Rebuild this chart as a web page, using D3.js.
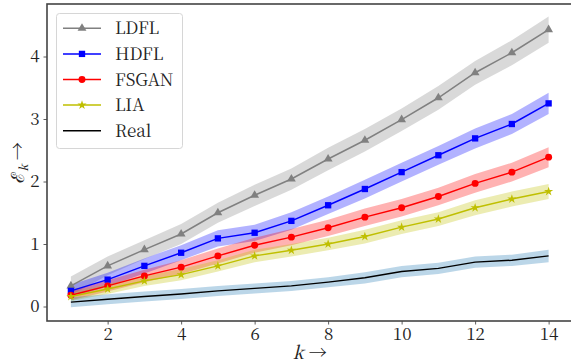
<!DOCTYPE html>
<html><head><meta charset="utf-8">
<script src="https://cdn.jsdelivr.net/npm/d3@7"></script>
<style>
html,body{margin:0;padding:0;background:#fff;}
svg{display:block;}
</style></head>
<body>
<svg id="c" width="571" height="364"></svg>
<script>
const ks = [1,2,3,4,5,6,7,8,9,10,11,12,13,14];
const ldfl  = [0.33,0.65,0.91,1.16,1.50,1.78,2.04,2.36,2.66,2.99,3.34,3.74,4.06,4.43];
const ldflE = [0.15,0.15,0.15,0.16,0.16,0.17,0.17,0.18,0.18,0.18,0.19,0.19,0.2,0.21];
const hdfl  = [0.25,0.43,0.65,0.86,1.09,1.18,1.37,1.62,1.88,2.15,2.42,2.69,2.92,3.25];
const hdflE = [0.1,0.11,0.12,0.12,0.13,0.13,0.14,0.14,0.15,0.15,0.15,0.16,0.16,0.17];
const fsgan = [0.18,0.33,0.49,0.63,0.81,0.98,1.11,1.26,1.43,1.58,1.76,1.97,2.15,2.39];
const fsganE= [0.08,0.09,0.1,0.11,0.12,0.12,0.13,0.13,0.14,0.14,0.14,0.15,0.15,0.16];
const lia   = [0.16,0.28,0.41,0.51,0.65,0.81,0.90,1.00,1.12,1.27,1.40,1.58,1.72,1.84];
const liaE  = [0.07,0.08,0.08,0.09,0.09,0.1,0.1,0.1,0.11,0.11,0.11,0.12,0.12,0.12];
const real  = [0.07,0.115,0.16,0.20,0.25,0.29,0.33,0.39,0.46,0.56,0.61,0.71,0.74,0.81];
const realE = [0.08,0.08,0.08,0.08,0.08,0.08,0.08,0.08,0.09,0.09,0.09,0.09,0.09,0.1];
const xTicks = [2,4,6,8,10,12,14];
const yTicks = [0,1,2,3,4];

const series = [
  {name:"LDFL",  v:ldfl,  e:ldflE,  color:"#808080", band:"#808080", marker:"tri"},
  {name:"HDFL",  v:hdfl,  e:hdflE,  color:"#0000ff", band:"#0000ff", marker:"sq"},
  {name:"FSGAN", v:fsgan, e:fsganE, color:"#ff0000", band:"#ff0000", marker:"circ"},
  {name:"LIA",   v:lia,   e:liaE,   color:"#bfbf00", band:"#bfbf00", marker:"star"},
  {name:"Real",  v:real,  e:realE,  color:"#000000", band:"#1f77b4", marker:null}
];

const FONT = "font-family:'Noto Serif CJK SC','Liberation Serif',serif;";
const svg = d3.select("#c");
const L=47, R=572.5, T=4, B=321;
const x = d3.scaleLinear().domain([0.35,14.65]).range([L,R]);
const y = d3.scaleLinear().domain([-0.232,4.84]).range([B,T]);

const symType = {tri:d3.symbolTriangle, sq:d3.symbolSquare, circ:d3.symbolCircle, star:d3.symbolStar};
const symSize = {tri:34, sq:40, circ:38, star:26};

series.forEach(s=>{
  const area = d3.area().x((d,i)=>x(ks[i])).y0((d,i)=>y(s.v[i]-s.e[i])).y1((d,i)=>y(s.v[i]+s.e[i]));
  svg.append("path").attr("d",area(s.v)).attr("fill",s.band).attr("fill-opacity",0.3).attr("stroke","none");
});
series.forEach(s=>{
  const line = d3.line().x((d,i)=>x(ks[i])).y(d=>y(d));
  svg.append("path").attr("d",line(s.v)).attr("fill","none").attr("stroke",s.color).attr("stroke-width",1.5);
  if(s.marker){
    svg.append("g").selectAll("path").data(s.v).join("path")
      .attr("transform",(d,i)=>`translate(${x(ks[i])},${y(d)})`)
      .attr("d",d3.symbol().type(symType[s.marker]).size(symSize[s.marker]))
      .attr("fill",s.color);
  }
});

const gx = svg.append("g").attr("transform",`translate(0,${B})`)
  .call(d3.axisBottom(x).tickValues(xTicks).tickSize(3.5).tickPadding(3).tickFormat(d3.format("d")));
const gy = svg.append("g").attr("transform",`translate(${L},0)`)
  .call(d3.axisLeft(y).tickValues(yTicks).tickSize(3.5).tickPadding(4).tickFormat(d3.format("d")));
[gx,gy].forEach(g=>{
  g.select(".domain").remove();
  g.selectAll(".tick line").attr("stroke","#333").attr("stroke-width",0.8);
  g.selectAll(".tick text").attr("style",FONT+"font-size:17px;").attr("fill","#222");
});
svg.append("rect").attr("x",L).attr("y",T).attr("width",R-L).attr("height",B-T)
  .attr("fill","none").attr("stroke","#444").attr("stroke-width",1.6);

const xl = svg.append("text").attr("x",(L+R)/2).attr("y",359).attr("text-anchor","middle")
  .attr("style",FONT+"font-size:18px;").attr("fill","#222");
xl.append("tspan").attr("font-style","italic").text("k");
xl.append("tspan").attr("dx",5).text("\u2192");
const yl = svg.append("text").attr("transform",`translate(24,${(T+B)/2}) rotate(-90)`).attr("text-anchor","middle")
  .attr("style",FONT+"font-size:18px;").attr("fill","#222");
yl.append("tspan").text("\u2130");
yl.append("tspan").attr("font-style","italic").attr("font-size",12).attr("dy",4).text("k");
yl.append("tspan").attr("dy",-4).attr("dx",4).text("\u2192");

const lg = svg.append("g");
lg.append("rect").attr("x",56.5).attr("y",13.5).attr("width",126).attr("height",135).attr("rx",3)
  .attr("fill","#fff").attr("fill-opacity",0.8).attr("stroke","#d6d6d6").attr("stroke-width",1);
series.forEach((s,i)=>{
  const cy = 28.3 + i*25.6;
  lg.append("line").attr("x1",63).attr("x2",101).attr("y1",cy).attr("y2",cy).attr("stroke",s.color).attr("stroke-width",1.5);
  if(s.marker) lg.append("path").attr("transform",`translate(82,${cy})`)
    .attr("d",d3.symbol().type(symType[s.marker]).size(symSize[s.marker])).attr("fill",s.color);
  lg.append("text").attr("x",115).attr("y",cy+6).attr("style",FONT+"font-size:17px;").attr("fill","#222").text(s.name);
});
</script>
</body></html>
